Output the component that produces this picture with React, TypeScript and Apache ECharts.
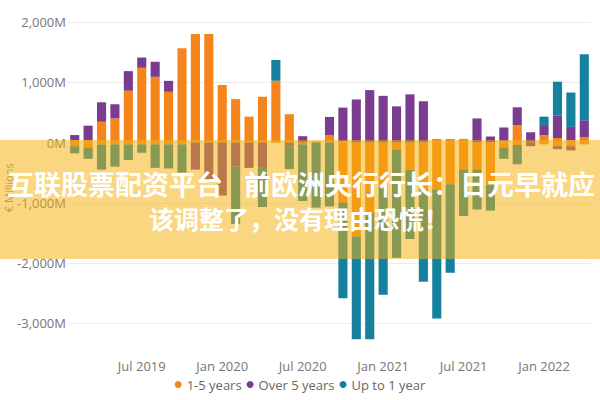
import { useEffect, useRef } from 'react';
import * as echarts from 'echarts';

// Feb 2019 .. Apr 2022, one bar per month
const months = [
  'Feb 2019', 'Mar 2019', 'Apr 2019', 'May 2019', 'Jun 2019', 'Jul 2019', 'Aug 2019', 'Sep 2019', 'Oct 2019', 'Nov 2019', 'Dec 2019',
  'Jan 2020', 'Feb 2020', 'Mar 2020', 'Apr 2020', 'May 2020', 'Jun 2020', 'Jul 2020', 'Aug 2020', 'Sep 2020', 'Oct 2020', 'Nov 2020', 'Dec 2020',
  'Jan 2021', 'Feb 2021', 'Mar 2021', 'Apr 2021', 'May 2021', 'Jun 2021', 'Jul 2021', 'Aug 2021', 'Sep 2021', 'Oct 2021', 'Nov 2021', 'Dec 2021',
  'Jan 2022', 'Feb 2022', 'Mar 2022', 'Apr 2022'
];

const seriesNames = ['1-5 years', 'Over 5 years', 'Up to 1 year'];

// purchases (positive part)
const midPos = [40, 40, 345, 400, 860, 1240, 1090, 842, 1565, 1800, 1800, 955, 720, 430, 760, 1025, 470, 0, 20, 125, 20, 0, 0, 0, 0, 0, 0, 60, 60, 60, 0, 0, 30, 290, 0, 125, 75, 40, 90];
const longPos = [84, 240, 323, 235, 325, 170, 250, 182, 0, 0, 0, 0, 0, 0, 0, 0, 0, 105, 0, 300, 560, 715, 870, 775, 600, 800, 685, 0, 0, 0, 400, 100, 220, 295, 170, 165, 370, 220, 280];
const shortPos = [0, 0, 0, 0, 0, 0, 0, 0, 0, 0, 0, 0, 0, 0, 0, 345, 0, 0, 0, 0, 0, 0, 0, 0, 0, 0, 0, 0, 0, 0, 0, 0, 0, 0, 0, 140, 565, 570, 1095];

// redemptions (negative part)
const midNeg = [-60, -90, -35, -30, -30, -30, -30, -30, -30, 0, 0, 0, 0, 0, 0, 0, 0, -30, 0, 0, -1000, -1560, -1170, -730, -120, -450, -780, -780, -690, -445, -445, -700, -80, -40, 0, -30, -60, -60, -30];
const longNeg = [0, 0, 0, 0, 0, 0, 0, 0, 0, -450, -650, -880, -400, -420, -420, 0, -60, 0, 0, 0, 0, 0, 0, 0, 0, 0, 0, 0, 0, 0, 0, 0, 0, 0, -60, 0, -50, -70, 0];
const shortNeg = [-120, -180, -415, -370, -260, -140, -390, -400, -470, 0, 0, 0, -950, 0, -650, 0, -380, -940, -1080, -1060, -1584, -1704, -2094, -1797, -1790, -1150, -1530, -2140, -1470, -775, -665, -430, -190, -320, 0, 0, 0, 0, 0];

const colors = ['#F5841A', '#7A3C8E', '#16809F'];

// headline banner laid over the chart; first line is spread over the full width
const bannerHead = ['互联股票配资平台', '前欧洲央行行长：日元早就应'];
const bannerTail = '该调整了，没有理由恐慌！';

const FONT = '"Open Sans", "DejaVu Sans", sans-serif';
const CJK = '"Noto Sans CJK SC"';

export default function App() {
  const containerRef = useRef<HTMLDivElement>(null);

  useEffect(() => {
    if (!containerRef.current) return;
    document.body.style.margin = '0';

    const chart = echarts.init(containerRef.current, undefined, { renderer: 'svg' });

    const bar = (name: string, data: number[], color: string) => ({
      name,
      type: 'bar' as const,
      stack: 'total',
      data,
      barCategoryGap: '32%',
      itemStyle: { color },
      emphasis: { disabled: true }
    });

    const bannerText = (text: string, x: number, y: number, size: number, align: 'left' | 'center' | 'right') => ({
      type: 'text' as const,
      z: 101,
      x,
      y,
      style: {
        text,
        fill: '#ffffff',
        font: `bold ${size}px ${CJK}`,
        align,
        verticalAlign: 'middle' as const
      }
    });

    const option: echarts.EChartsOption = {
      animation: false,
      textStyle: { fontFamily: FONT },
      grid: { left: 68, right: 9, top: 22, bottom: 46.5, outerBoundsMode: 'none' } as any,
      legend: {
        data: seriesNames,
        bottom: 4,
        left: 'center',
        icon: 'circle',
        itemWidth: 7,
        itemHeight: 7,
        itemGap: 5,
        textStyle: { fontSize: 13, color: '#666', fontFamily: FONT }
      },
      xAxis: {
        type: 'category',
        data: months,
        axisLine: { show: false },
        axisTick: { show: false },
        axisLabel: {
          fontSize: 13,
          color: '#777',
          margin: 6,
          interval: (_i: number, v: string) => v.startsWith('Jan') || v.startsWith('Jul')
        }
      },
      yAxis: {
        type: 'value',
        min: -3500,
        max: 2000,
        interval: 500,
        name: '€ Millions',
        nameLocation: 'middle',
        nameGap: 54,
        nameMoveOverlap: false,
        nameTextStyle: { fontSize: 11, color: '#888' },
        axisLabel: {
          fontSize: 13,
          color: '#777',
          margin: 2,
          formatter: (v: number) => (v % 1000 === 0 ? `${v.toLocaleString('en-US')}M` : '')
        },
        splitLine: { lineStyle: { color: ['transparent', '#ececec'] } }
      } as any,
      series: [
        bar(seriesNames[0], midPos, colors[0]),
        bar(seriesNames[1], longPos, colors[1]),
        bar(seriesNames[2], shortPos, colors[2]),
        bar(seriesNames[0], midNeg, colors[0]),
        bar(seriesNames[1], longNeg, colors[1]),
        bar(seriesNames[2], shortNeg, colors[2])
      ],
      graphic: [
        {
          type: 'rect',
          z: 100,
          shape: { x: 0, y: 140, width: 600, height: 119 },
          style: { fill: 'rgba(244,176,10,0.52)' }
        },
        bannerText(bannerHead[0], 7, 183, 27, 'left'),
        bannerText(bannerHead[1], 595, 183, 27, 'right'),
        bannerText(bannerTail, 299, 218, 25, 'center')
      ]
    };

    chart.setOption(option);

    return () => {
      chart.dispose();
    };
  }, []);

  return <div ref={containerRef} style={{ width: 600, height: 400 }} />;
}
